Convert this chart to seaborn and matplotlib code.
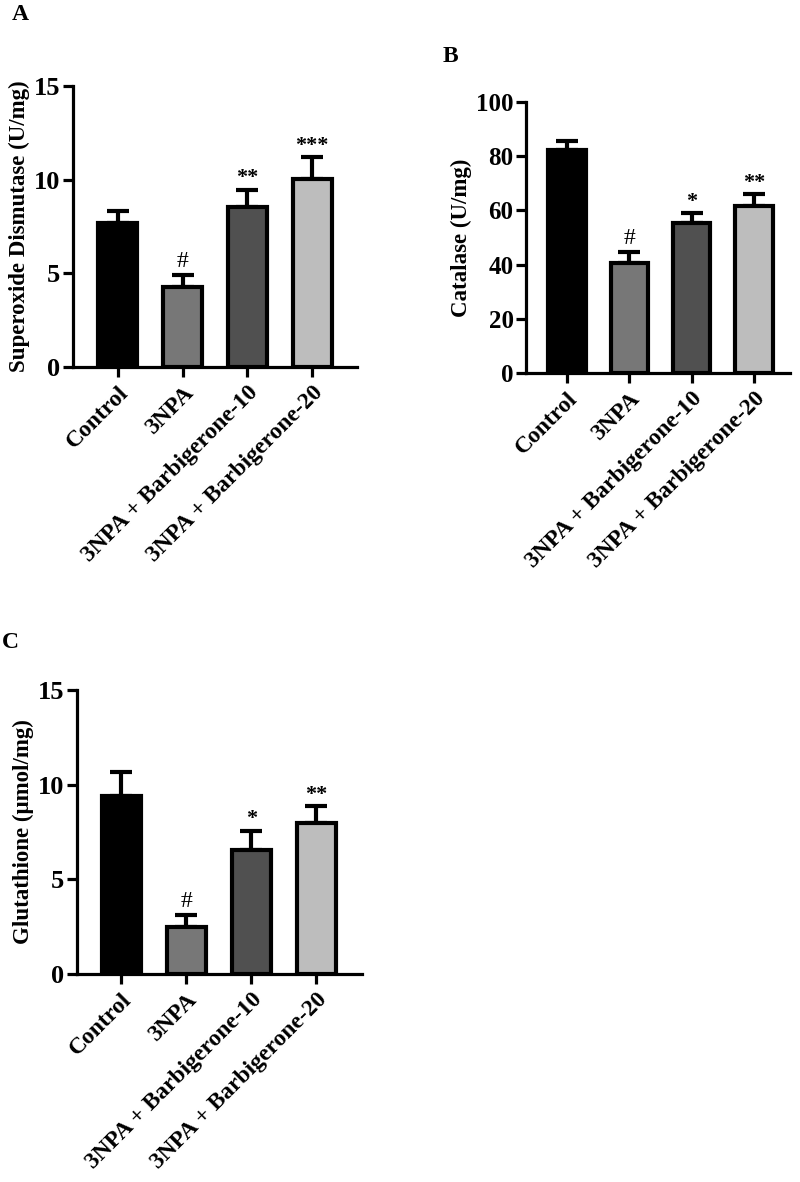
import matplotlib
matplotlib.use("Agg")
import matplotlib.pyplot as plt
import seaborn as sns
import pandas as pd

groups = ["Control", "3NPA", "3NPA + Barbigerone-10", "3NPA + Barbigerone-20"]
colors = ["#000000", "#777777", "#505050", "#bdbdbd"]

sod_mean = [7.7, 4.27, 8.55, 10.05]
sod_err = [0.65, 0.63, 0.92, 1.15]
sod_sig = ["", "#", "**", "***"]

cat_mean = [82.3, 40.6, 55.4, 61.6]
cat_err = [3.3, 4.0, 3.6, 4.4]
cat_sig = ["", "#", "*", "**"]

gsh_mean = [9.4, 2.48, 6.55, 7.98]
gsh_err = [1.27, 0.62, 1.01, 0.89]
gsh_sig = ["", "#", "*", "**"]

sns.set_theme(style="ticks")
plt.rcParams["font.family"] = ["Liberation Serif", "DejaVu Serif"]
plt.rcParams["font.weight"] = "bold"
for k in ["text.color", "axes.labelcolor", "xtick.color", "ytick.color", "axes.edgecolor"]:
    plt.rcParams[k] = "black"

fig = plt.figure(figsize=(8, 11.82), dpi=100)
W, H = 800, 1182

def make_ax(left, right, top, bottom):
    return fig.add_axes([left / W, 1 - bottom / H, (right - left) / W, (bottom - top) / H])

def panel(ax, means, errs, sigs, ylim, yticks, ylabel, fs_tick, fs_lab, fs_x, xl):
    df = pd.DataFrame({"group": groups, "value": means})
    sns.barplot(data=df, x="group", y="value", hue="group", palette=colors,
                order=groups, hue_order=groups, legend=False, errorbar=None,
                width=0.6, edgecolor="black", linewidth=3, ax=ax, zorder=3)
    ax.errorbar(range(len(groups)), means, yerr=[[0] * len(errs), errs], fmt="none",
                ecolor="black", elinewidth=3, capsize=8, capthick=3, zorder=2)
    ax.set_ylim(*ylim)
    ax.set_xlim(*xl)
    ax.set_yticks(yticks)
    ax.set_yticklabels([str(t) for t in yticks], fontsize=fs_tick, fontweight="bold")
    ax.set_xticks(range(len(groups)))
    ax.set_xticklabels(groups, rotation=45, ha="right", rotation_mode="anchor",
                       fontsize=fs_x, fontweight="bold")
    ax.set_xlabel("")
    ax.set_ylabel(ylabel, fontsize=fs_lab, fontweight="bold", labelpad=3)
    for s in ["top", "right"]:
        ax.spines[s].set_visible(False)
    for s in ["left", "bottom"]:
        ax.spines[s].set_linewidth(2.3)
    ax.tick_params(axis="both", width=2.3, length=7, pad=2, color="black")
    ax.tick_params(axis="x", pad=4)
    span = ylim[1] - ylim[0]
    for i, (m, e, s) in enumerate(zip(means, errs, sigs)):
        if s == "#":
            ax.text(i, m + e + span * 0.012, s, ha="center", va="bottom",
                    fontsize=17, fontweight="normal")
        elif s:
            ax.text(i, m + e + span * 0.005, s, ha="center", va="bottom",
                    fontsize=16, fontweight="bold")

axA = make_ax(73, 357, 86, 367)
panel(axA, sod_mean, sod_err, sod_sig, (0, 15), [0, 5, 10, 15],
      "Superoxide Dismutase (U/mg)", 19, 16.5, 17, (-0.69, 3.69))

axB = make_ax(526, 790, 102, 373)
panel(axB, cat_mean, cat_err, cat_sig, (0, 100), [0, 20, 40, 60, 80, 100],
      "Catalase (U/mg)", 18, 16.5, 17, (-0.66, 3.58))

axC = make_ax(77, 362, 690, 974)
panel(axC, gsh_mean, gsh_err, gsh_sig, (0, 15), [0, 5, 10, 15],
      "Glutathione (μmol/mg)", 19, 16.5, 17, (-0.68, 3.7))

fig.text(12 / W, 1 - 14 / H, "A", fontsize=17, fontweight="bold", va="center", ha="left")
fig.text(443 / W, 1 - 57 / H, "B", fontsize=17, fontweight="bold", va="center", ha="left")
fig.text(2 / W, 1 - 643 / H, "C", fontsize=17, fontweight="bold", va="center", ha="left")

fig.savefig("out.png", dpi=100, facecolor="white")
